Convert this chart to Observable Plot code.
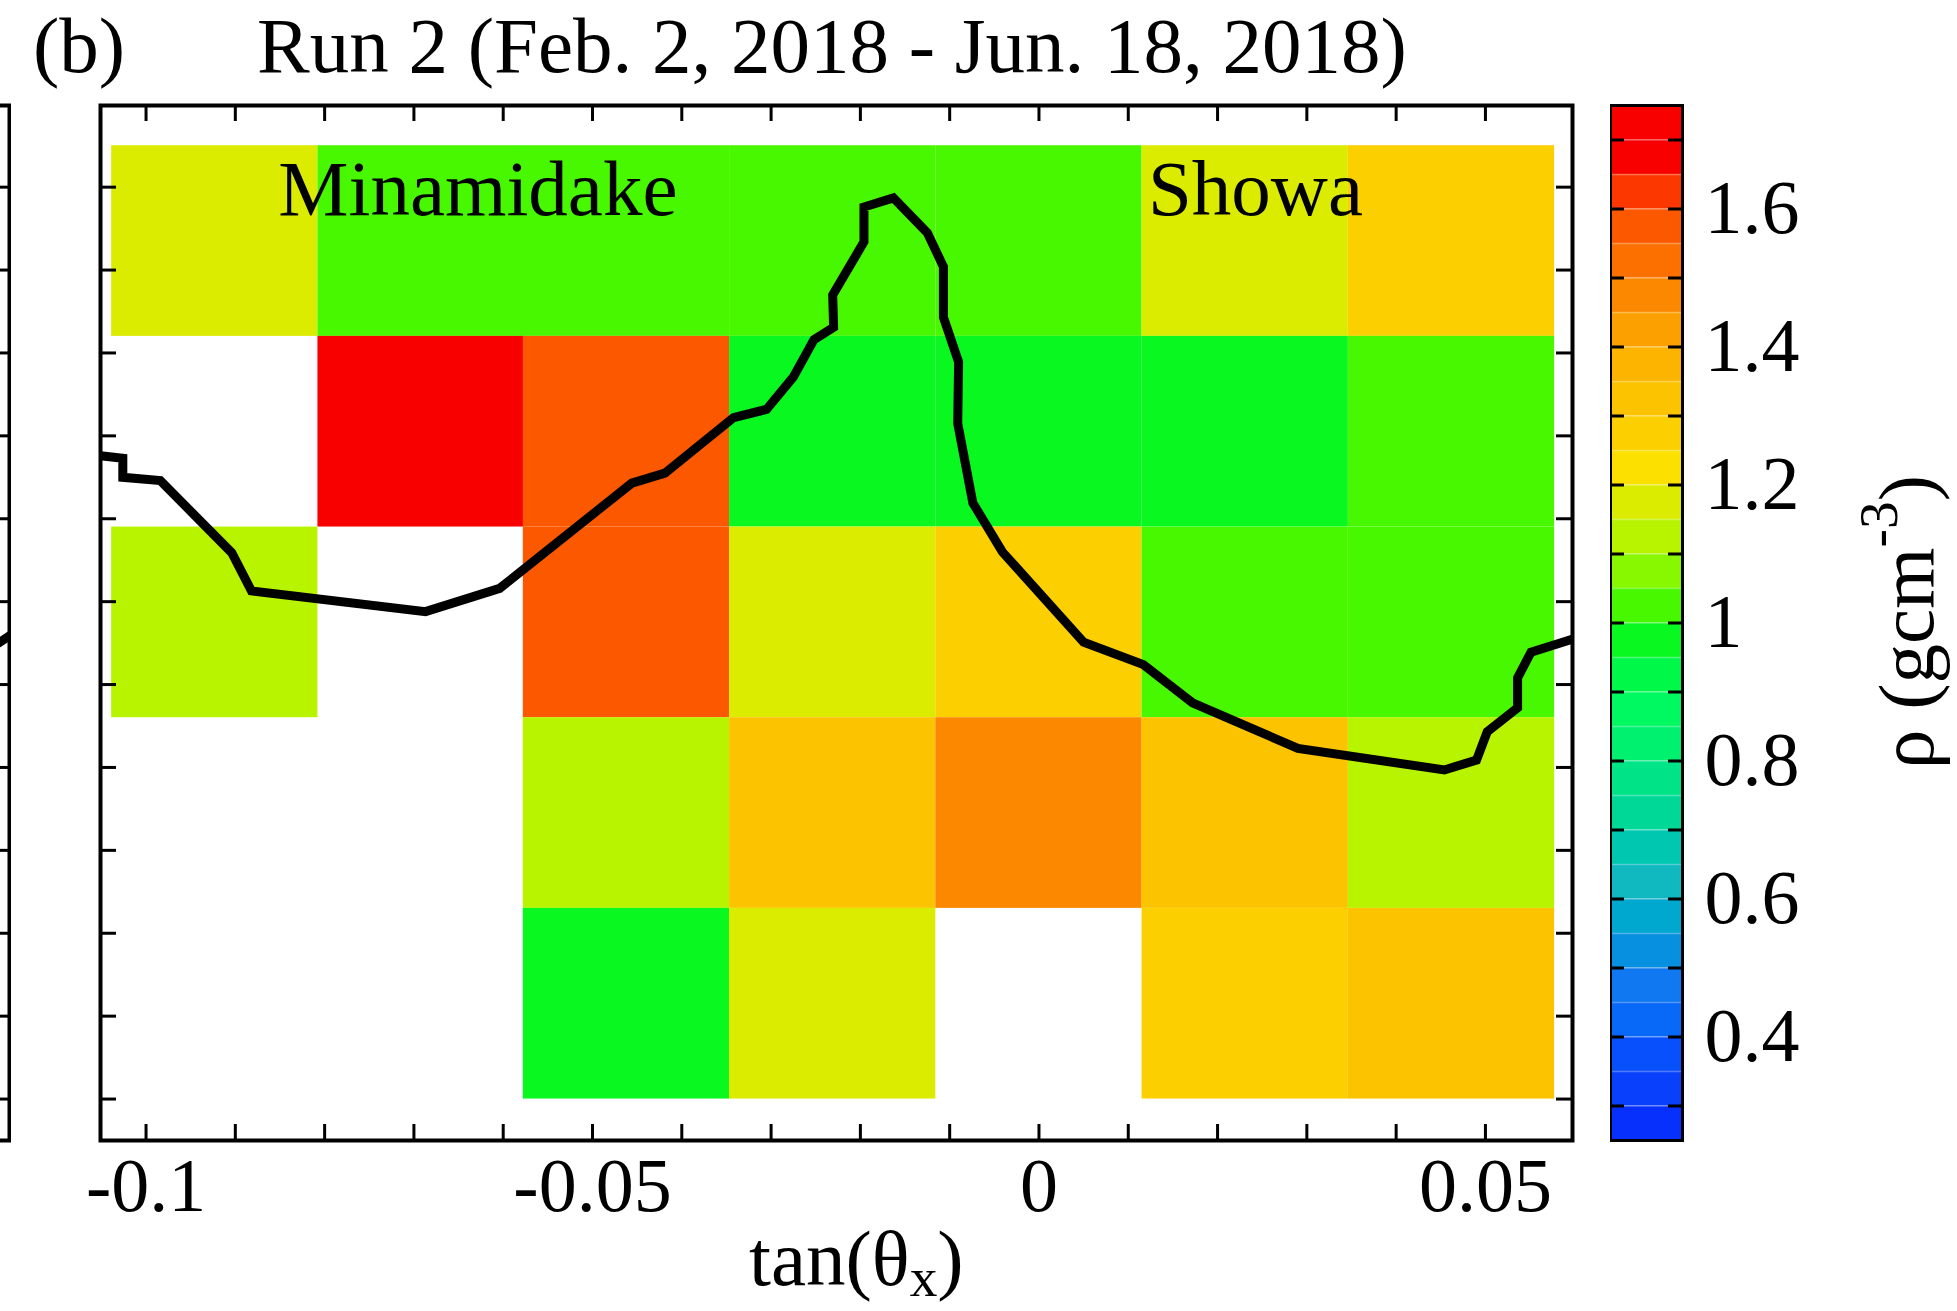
<!DOCTYPE html>
<html>
<head>
<meta charset="utf-8">
<script src="https://cdn.jsdelivr.net/npm/d3@7"></script>
<script src="https://cdn.jsdelivr.net/npm/@observablehq/plot@0.6"></script>
<style>
  html, body { margin: 0; padding: 0; background: #fff; }
  #page {
    position: relative; width: 1957px; height: 1311px; overflow: hidden;
    font-family: "Liberation Serif", "Times New Roman", serif; color: #000; background: #fff;
  }
  .txt { position: absolute; white-space: nowrap; font-size: 79px; line-height: 1; }
  #page svg { position: absolute; top: 0; max-width: none; }
</style>
</head>
<body>
<div id="page">
  <div class="txt" style="left:33px; top:6px">(b)</div>
  <div class="txt" style="left:257px; top:6px">Run 2 (Feb. 2, 2018 - Jun. 18, 2018)</div>
  <div class="txt" style="left:749px; top:1219px">tan(θ<span style="position:relative; top:0.2em; font-size:0.7em">x</span>)</div>
  <div class="txt" style="left:0; top:0; transform-origin:0 0; transform:translate(1933px, 622px) rotate(-90deg) translate(-50%, -66px)">ρ (gcm<span style="position:relative; top:-0.65em; font-size:0.7em">-3</span>)</div>
</div>
<script>
// ---- data -------------------------------------------------------------
// density bins on the tan(θx) × tan(θy) grid (top row first, null = no data)
const cellX = [-0.0923, -0.0692, -0.0462, -0.0231, 0, 0.0231, 0.0462];
const cellY = [0.2235, 0.2005, 0.1775, 0.1545, 0.1315];
const cellW = 0.0231;
const cellH = 0.023;
const density = [
  [1.17, 1.02, 1.02, 1.02, 1.02, 1.17, 1.27],
  [null, 1.72, 1.57, 0.97, 0.97, 0.97, 1.02],
  [1.12, null, 1.57, 1.17, 1.27, 1.02, 1.02],
  [null, null, 1.12, 1.32, 1.47, 1.32, 1.12],
  [null, null, 0.97, 1.17, null, 1.27, 1.32]
];

// crater rim / ridge line of the volcano
const ridgeX = [-0.1051, -0.1026, -0.1026, -0.0984, -0.0904, -0.0882, -0.0687, -0.0604, -0.0456, -0.0419,
  -0.0342, -0.0305, -0.0275, -0.0252, -0.0230, -0.0231, -0.0196, -0.0196, -0.0163, -0.0125,
  -0.0107, -0.0107, -0.0090, -0.0091, -0.0074, -0.0041, 0.0050, 0.0117, 0.0172, 0.0290,
  0.0454, 0.0490, 0.0502, 0.0536, 0.0536, 0.0551, 0.0598];
const ridgeY = [0.1976, 0.1973, 0.1950, 0.1946, 0.1859, 0.1813, 0.1788, 0.1816, 0.1943, 0.1955,
  0.2022, 0.2032, 0.2071, 0.2116, 0.2131, 0.2170, 0.2234, 0.2276, 0.2287, 0.2245,
  0.2204, 0.2143, 0.2089, 0.2015, 0.1919, 0.1860, 0.1751, 0.1724, 0.1678, 0.1623,
  0.1597, 0.1609, 0.1643, 0.1672, 0.1708, 0.1739, 0.1755];

// end of the ridge line in panel (a), at its right border
const panelARidgeX = [0.0585, 0.0598];
const panelARidgeY = [0.1750, 0.1759];

const craterNames = ["Minamidake", "Showa"];
const craterX = [-0.0852, 0.0122];
const craterY = [0.2266, 0.2266];

// palette: 30 bands of 0.05 g/cm3 from 0.25 to 1.75
const bandEdges = [0.25, 0.30, 0.35, 0.40, 0.45, 0.50, 0.55, 0.60, 0.65, 0.70, 0.75, 0.80, 0.85, 0.90, 0.95,
  1.00, 1.05, 1.10, 1.15, 1.20, 1.25, 1.30, 1.35, 1.40, 1.45, 1.50, 1.55, 1.60, 1.65, 1.70, 1.75];
const bandColors = ["#0830fc", "#0840fc", "#0850fc", "#0868f8", "#1078f0", "#0890e0", "#00a8d0", "#10b8c0",
  "#00c8b0", "#00d898", "#00e488", "#00f070", "#00f860", "#00f848", "#08f820", "#48f800", "#88f800",
  "#b8f400", "#dcec00", "#fce000", "#fcd000", "#fcc400", "#fcb400", "#fca000", "#fc8800", "#fc7000",
  "#fc5800", "#fc3800", "#f80000", "#f80000"];

const xTickLabels = [-0.1, -0.05, 0, 0.05];
const xMinorTicks = [-0.1, -0.09, -0.08, -0.07, -0.06, -0.05, -0.04, -0.03, -0.02, -0.01, 0, 0.01, 0.02, 0.03, 0.04, 0.05];
const yMinorTicks = [0.12, 0.13, 0.14, 0.15, 0.16, 0.17, 0.18, 0.19, 0.20, 0.21, 0.22, 0.23];
const cbTicks = [0.3, 0.4, 0.5, 0.6, 0.7, 0.8, 0.9, 1.0, 1.1, 1.2, 1.3, 1.4, 1.5, 1.6, 1.7];
const cbLabels = [0.4, 0.6, 0.8, 1, 1.2, 1.4, 1.6];

// ---- derived tables ---------------------------------------------------
const cells = [];
density.forEach((row, r) => row.forEach((rho, c) => {
  if (rho == null) return;
  cells.push({x1: cellX[c] - cellW / 2, x2: cellX[c] + cellW / 2, y1: cellY[r] - cellH / 2, y2: cellY[r] + cellH / 2, rho});
}));
const ridge = ridgeX.map((x, i) => ({x, y: ridgeY[i]}));
const panelARidge = panelARidgeX.map((x, i) => ({x, y: panelARidgeY[i]}));
const craters = craterNames.map((name, i) => ({name, x: craterX[i], y: craterY[i]}));
const bands = bandColors.map((c, i) => ({lo: bandEdges[i], hi: bandEdges[i + 1], mid: (bandEdges[i] + bandEdges[i + 1]) / 2}));

// ---- layout -----------------------------------------------------------
const H = 1311, mT = 105, mB = 171;
const W = 1600, mL = 100, mR = 28;
const innerW = W - mL - mR, innerH = H - mT - mB;
const tickLen = 16;
const ridgeWidth = 9;
const yDomain = [0.115, 0.23985];
const color = {type: "threshold", domain: bandEdges.slice(1, -1), range: bandColors};
const style = {fontFamily: "Liberation Serif, Times New Roman, serif", fontSize: "76px", background: "transparent", color: "#000", maxWidth: "none"};

const main = Plot.plot({
  width: W, height: H, marginLeft: mL, marginRight: mR, marginTop: mT, marginBottom: mB,
  x: {domain: [-0.1051, 0.05975]},
  y: {domain: yDomain, axis: null},
  color,
  style,
  marks: [
    Plot.rect(cells, {x1: "x1", x2: "x2", y1: "y1", y2: "y2", fill: "rho"}),
    Plot.line(ridge, {x: "x", y: "y", stroke: "#000", strokeWidth: ridgeWidth, strokeLinejoin: "miter", strokeMiterlimit: 3, clip: true}),
    Plot.text(craters, {x: "x", y: "y", text: "name", textAnchor: "start", lineAnchor: "bottom", fontSize: 79, fill: "#000"}),
    Plot.tickX(xMinorTicks, {x: d => d, insetTop: innerH - tickLen, stroke: "#000", strokeWidth: 3}),
    Plot.tickX(xMinorTicks, {x: d => d, insetBottom: innerH - tickLen, stroke: "#000", strokeWidth: 3}),
    Plot.tickY(yMinorTicks, {y: d => d, insetRight: innerW - tickLen, stroke: "#000", strokeWidth: 3}),
    Plot.tickY(yMinorTicks, {y: d => d, insetLeft: innerW - tickLen, stroke: "#000", strokeWidth: 3}),
    Plot.axisX({anchor: "bottom", ticks: xTickLabels, tickSize: 0, tickPadding: 17, tickFormat: d => String(d), fontSize: 76, label: null}),
    Plot.frame({stroke: "#000", strokeWidth: 4})
  ]
});
main.style.left = "0px";

// colour scale bar
const cbW = 347, cbBarW = 72;
const colorbar = Plot.plot({
  width: cbW, height: H, marginLeft: 0, marginRight: cbW - cbBarW, marginTop: mT, marginBottom: mB,
  x: {domain: [0, 1], axis: null},
  y: {domain: [0.25, 1.75]},
  color,
  style,
  marks: [
    Plot.rect(bands, {x1: 0, x2: 1, y1: "lo", y2: "hi", fill: "mid"}),
    Plot.ruleY(bandEdges.slice(1, -1), {stroke: "#fff", strokeOpacity: 0.3, strokeWidth: 1.5}),
    Plot.tickY(cbTicks, {y: d => d, insetRight: cbBarW - 14, stroke: "#000", strokeWidth: 3}),
    Plot.tickY(cbTicks, {y: d => d, insetLeft: cbBarW - 14, stroke: "#000", strokeWidth: 3}),
    Plot.axisY({anchor: "right", ticks: cbLabels, tickSize: 0, tickPadding: 22, tickFormat: d => String(d), fontSize: 76, label: null}),
    Plot.frame({stroke: "#000", strokeWidth: 3})
  ]
});
colorbar.style.left = "1610px";

// right border of panel (a)
const nbW = 60, nbMR = 2;
const neighbour = Plot.plot({
  width: nbW, height: H, marginLeft: 0, marginRight: nbMR, marginTop: mT, marginBottom: mB,
  x: {domain: [0.0533, 0.05975], axis: null},
  y: {domain: yDomain, axis: null},
  style,
  marks: [
    Plot.line(panelARidge, {x: "x", y: "y", stroke: "#000", strokeWidth: ridgeWidth, clip: true}),
    Plot.tickY(yMinorTicks, {y: d => d, insetLeft: nbW - nbMR - tickLen, stroke: "#000", strokeWidth: 3}),
    Plot.frame({stroke: "#000", strokeWidth: 4})
  ]
});
neighbour.style.left = "-49px";

const page = document.getElementById("page");
page.prepend(neighbour, main, colorbar);
</script>
</body>
</html>
